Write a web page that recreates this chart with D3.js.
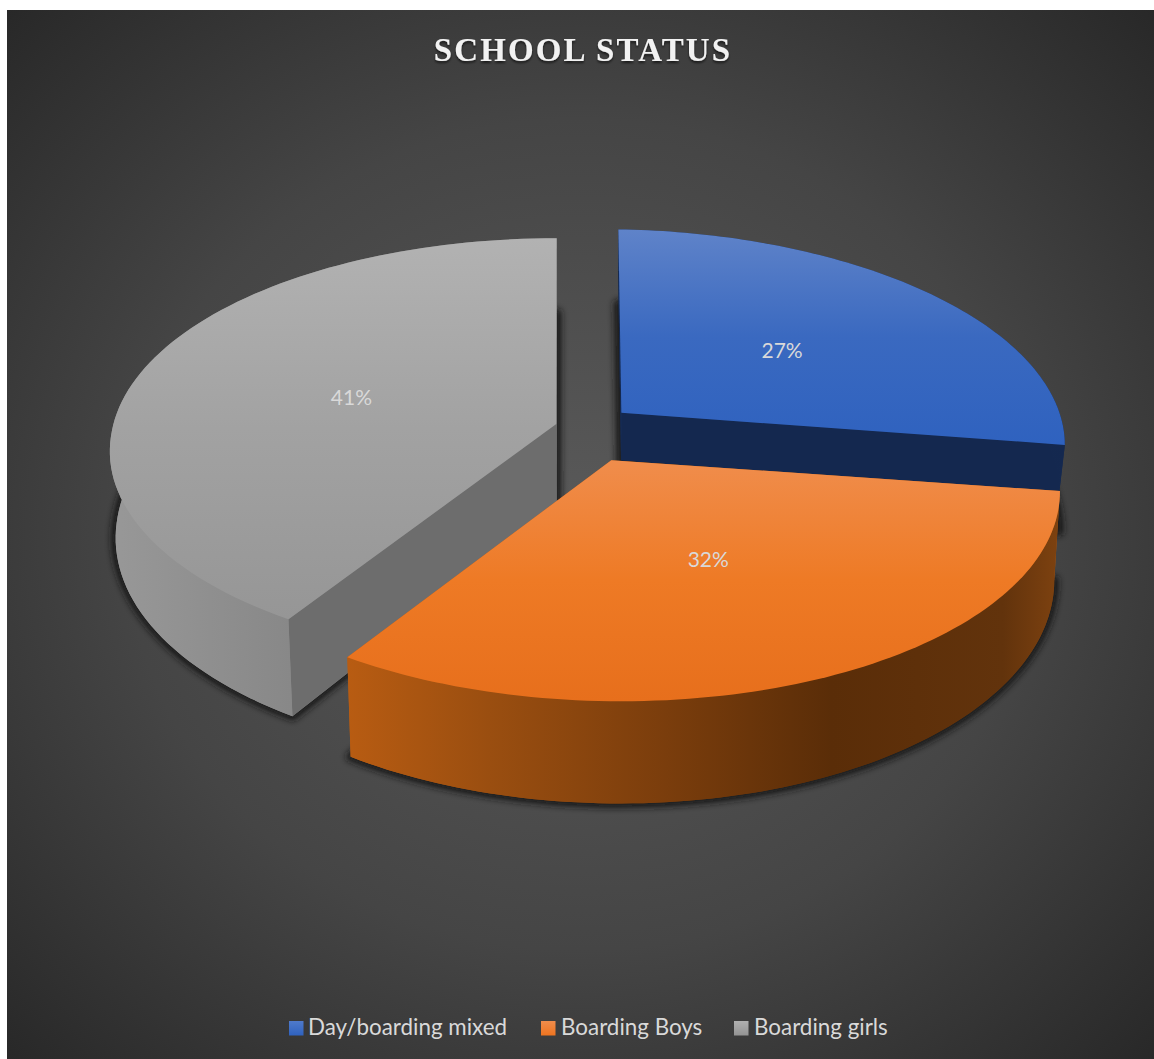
<!DOCTYPE html>
<html>
<head>
<meta charset="utf-8">
<script src="https://cdn.jsdelivr.net/npm/d3@7"></script>
<style>
  html, body { margin: 0; padding: 0; background: #fff; }
  svg { display: block; }
</style>
</head>
<body>
<svg id="chart" width="1154" height="1059"></svg>
<script>
// School status shares, drawn as an exploded pie in perspective.
const categories = ["Day/boarding mixed", "Boarding Boys", "Boarding girls"];
const shares = [27, 32, 41];
const legendSwatchX = [289, 541, 734];
const legendTextX = [308, 561, 754];

const faceStops = [
  ["#5f83c9", "#3a69c0", "#2f62bf"],
  ["#f08d4c", "#ee7a25", "#e76f1c"],
  ["#b2b2b2", "#a2a2a2", "#969696"]
];
const rimColors = ["#14284f", "#b85c12", "#6d6d6d"];
const legendStops = [["#4f7acb", "#2f62bf"], ["#f08d4c", "#ee7420"], ["#b0b0b0", "#939393"]];

// Camera and pie geometry
const vanishX = 593, vanishY = 432.5;
const perspective = 0.12, explodeX = 0.086, explodeZ = 0.146;
const depthPerspective = 0.14, bottomInset = 0.012;
const sliceRadiusX = [445, 438, 445];
const sliceRadiusY = [210, 205, 210];
const sliceShiftX = [0, 2, 0];
const sliceTilt = [6, 4, 0];
const sliceLean = [0, 0, 3.5];
const shadowDepth = 86;
const bodyDepth = [48, 86, 86];
const labelReach = [0.51, 0.48, 0.49];

const svg = d3.select("#chart");
const defs = svg.append("defs");

const pie = d3.pie().sort(null).value(d => d).startAngle(0).endAngle(2 * Math.PI);
const arcs = pie(shares);
arcs.forEach((a, i) => { a.mid = (a.startAngle + a.endAngle) / 2; a.i = i; });

// Polar position inside a slice to screen coordinates; depth 0 is the top plane.
function project(arc, r, angle, depth) {
  const i = arc.i;
  const X = r * Math.sin(angle) + explodeX * Math.sin(arc.mid);
  const Z = r * Math.cos(angle) + explodeZ * Math.cos(arc.mid);
  const w = 1 + perspective * Z;
  const y = vanishY - sliceRadiusY[i] * Z / w + sliceTilt[i] * X;
  const lean = sliceLean[i] * Math.max(0, Z);
  if (!depth) return [vanishX + sliceShiftX[i] + sliceRadiusX[i] * X / w - lean, y];
  return [
    vanishX + sliceShiftX[i] + sliceRadiusX[i] * X / (w + bottomInset) - lean,
    y + depth / (1 + depthPerspective * Z)
  ];
}

function rim(arc, depth) {
  const n = 90;
  return d3.range(n + 1).map(i =>
    project(arc, 1, arc.startAngle + (arc.endAngle - arc.startAngle) * i / n, depth));
}

const line = d3.line();
const closed = pts => line(pts) + "Z";

// Page background
const bg = defs.append("radialGradient").attr("id", "bg")
  .attr("cx", 0.5).attr("cy", 0.5).attr("r", 0.72);
bg.append("stop").attr("offset", 0).attr("stop-color", "#5a5a5a");
bg.append("stop").attr("offset", 0.55).attr("stop-color", "#454545");
bg.append("stop").attr("offset", 1).attr("stop-color", "#272727");
svg.append("rect").attr("x", 7).attr("y", 10).attr("width", 1147).attr("height", 1049)
  .attr("fill", "url(#bg)");

// Gradients for the slice tops
arcs.forEach((a, i) => {
  const pts = rim(a, 0).concat([project(a, 0, 0, 0)]);
  const ys = d3.extent(pts, p => p[1]);
  const g = defs.append("linearGradient").attr("id", "face" + i)
    .attr("gradientUnits", "userSpaceOnUse")
    .attr("x1", 0).attr("x2", 0).attr("y1", ys[0]).attr("y2", ys[1]);
  faceStops[i].forEach((c, k) =>
    g.append("stop").attr("offset", k / 2).attr("stop-color", c));
});

// Horizontal shading along the curved walls
const wallStops = [
  [[0, "#1a3566"], [1, "#14284f"]],
  [[0, "#b85c12"], [0.2, "#9a4e10"], [0.45, "#7a3d0c"], [0.68, "#5a2d08"], [0.92, "#62330c"], [1, "#7e4210"]],
  [[0, "#989898"], [0.35, "#8a8a8a"], [1, "#727272"]]
];
arcs.forEach((a, i) => {
  const xs = d3.extent(rim(a, 0), p => p[0]);
  const g = defs.append("linearGradient").attr("id", "wall" + i)
    .attr("gradientUnits", "userSpaceOnUse")
    .attr("x1", xs[0]).attr("x2", xs[1]).attr("y1", 0).attr("y2", 0);
  wallStops[i].forEach(s => g.append("stop").attr("offset", s[0]).attr("stop-color", s[1]));
});

const blur = defs.append("filter").attr("id", "soft")
  .attr("x", "-10%").attr("y", "-10%").attr("width", "120%").attr("height", "120%");
blur.append("feGaussianBlur").attr("stdDeviation", 3);

// Cast shadows under every slice
const floorOutline = (a, depth) => closed([project(a, 0, 0, depth)].concat(rim(a, depth)));
svg.append("g").attr("filter", "url(#soft)").attr("opacity", 0.9).selectAll("path")
  .data(arcs).join("path")
  .attr("d", a => floorOutline(a, shadowDepth))
  .attr("fill", "#161616").attr("stroke", "#161616").attr("stroke-width", 9)
  .attr("stroke-linejoin", "round");

// Slices, back to front
[2, 0, 1].forEach(i => {
  const a = arcs[i], depth = bodyDepth[i];
  const top = rim(a, 0), low = rim(a, depth);
  const apex = project(a, 0, 0, 0), apexLow = project(a, 0, 0, depth);
  const g = svg.append("g");

  g.append("path").attr("d", floorOutline(a, depth)).attr("fill", `url(#wall${i})`);
  // Cut faces along the two straight edges
  g.append("path").attr("d", closed([apex, top[0], low[0], apexLow])).attr("fill", rimColors[i]);
  g.append("path").attr("d", closed([apex, top[top.length - 1], low[low.length - 1], apexLow])).attr("fill", rimColors[i]);
  // Curved wall, then the top face over it
  g.append("path").attr("d", closed(top.concat(low.slice().reverse()))).attr("fill", `url(#wall${i})`);
  g.append("path").attr("d", closed([apex].concat(top))).attr("fill", `url(#face${i})`);
});

// Percentage labels sit about halfway out on each slice
arcs.forEach((a, i) => {
  const p = project(a, labelReach[i], a.mid, 0);
  svg.append("text").attr("x", p[0]).attr("y", p[1] + 9)
    .attr("text-anchor", "middle")
    .attr("font-family", "Lato, 'Open Sans', sans-serif").attr("font-size", 21)
    .attr("fill", "#d9d9d9")
    .text(a.value + "%");
});

// Title
const titleShadow = defs.append("filter").attr("id", "titleShadow");
titleShadow.append("feDropShadow").attr("dx", 0).attr("dy", 2).attr("stdDeviation", 1.2)
  .attr("flood-color", "#000").attr("flood-opacity", 0.6);
svg.append("text").attr("x", 583).attr("y", 61).attr("text-anchor", "middle")
  .attr("font-family", "'Liberation Serif', serif").attr("font-weight", "bold")
  .attr("font-size", 33).attr("letter-spacing", 2.1)
  .attr("fill", "#f2f2f2").attr("filter", "url(#titleShadow)")
  .text("SCHOOL STATUS");

// Legend
categories.forEach((name, i) => {
  const g = defs.append("linearGradient").attr("id", "key" + i)
    .attr("x1", 0).attr("x2", 0).attr("y1", 0).attr("y2", 1);
  legendStops[i].forEach((c, k) => g.append("stop").attr("offset", k).attr("stop-color", c));
  svg.append("rect").attr("x", legendSwatchX[i]).attr("y", 1021)
    .attr("width", 14.5).attr("height", 14.5).attr("fill", `url(#key${i})`);
  svg.append("text").attr("x", legendTextX[i]).attr("y", 1035)
    .attr("font-family", "Lato, 'Open Sans', sans-serif").attr("font-size", 22.4)
    .attr("fill", "#d9d9d9").text(name);
});
</script>
</body>
</html>
